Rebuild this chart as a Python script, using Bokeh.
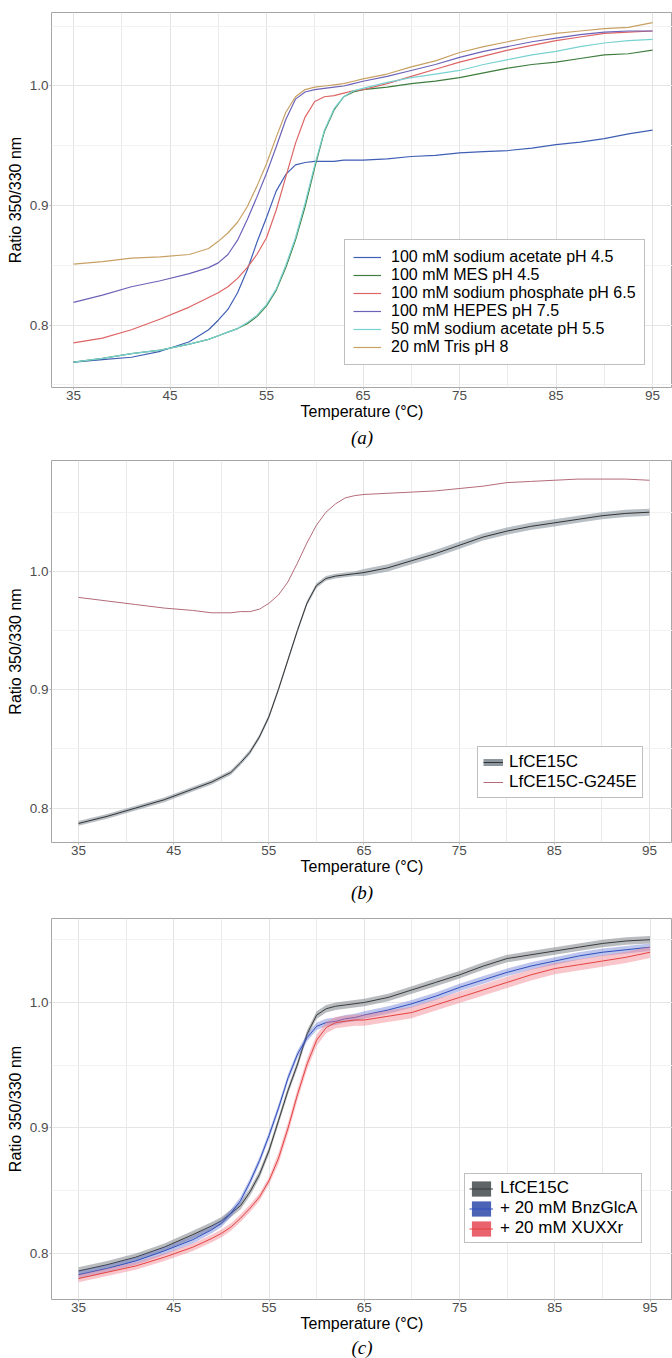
from bokeh.plotting import figure
from bokeh.models import (FixedTicker, PrintfTickFormatter, Legend, LegendItem,
                          Title, Range1d, ColumnDataSource)
from bokeh.layouts import column
from bokeh.embed import file_html
from bokeh.resources import INLINE

NAN = float("nan")

# ---------------- data ----------------
TEMP = [35, 38, 41, 44, 47, 49, 50, 51, 52, 53, 54, 55, 56, 57, 58, 59, 60, 61, 62,
        63, 64, 65, 67.5, 70, 72.5, 75, 77.5, 80, 82.5, 85, 87.5, 90, 92.5, 95]

# panel (a): buffer screen
a_labels = ["100 mM sodium acetate pH 4.5", "100 mM MES pH 4.5",
            "100 mM sodium phosphate pH 6.5", "100 mM HEPES pH 7.5",
            "50 mM sodium acetate pH 5.5", "20 mM Tris pH 8"]
a_acetate45 = [.769, .771, .773, .778, .786, .796, .804, .813, .827, .846, .869, .890, .912, .926,
               .934, .936, .937, .937, .937, .938, .938, .938, .939, .941, .942, .944, .945, .946,
               .948, .951, .953, .956, .960, .963]
a_mes45 = [.769, .772, .776, .779, .784, .788, .791, .794, .797, .801, .807, .816, .829, .848,
           .871, .899, .932, .962, .980, .991, .995, .997, .999, 1.002, 1.004, 1.007, 1.011, 1.015,
           1.018, 1.020, 1.023, 1.026, 1.027, 1.030]
a_phosphate65 = [.785, .789, .796, .805, .815, .823, .827, .832, .839, .848, .859, .873, .896, .924,
                 .952, .974, .987, .991, .992, .994, .996, .997, 1.002, 1.008, 1.014, 1.020, 1.025,
                 1.030, 1.034, 1.038, 1.041, 1.044, 1.045, 1.046]
a_hepes75 = [.819, .825, .832, .837, .843, .848, .852, .859, .871, .888, .907, .927, .949, .972,
             .989, .995, .997, .998, .999, 1.000, 1.002, 1.004, 1.008, 1.013, 1.018, 1.024, 1.029,
             1.033, 1.037, 1.040, 1.043, 1.045, 1.046, 1.046]
a_acetate55 = [.769, .772, .776, .779, .784, .788, .791, .794, .797, .802, .808, .817, .830, .850,
               .873, .902, .934, .963, .981, .991, .996, .998, 1.003, 1.007, 1.010, 1.013, 1.018,
               1.022, 1.026, 1.029, 1.033, 1.036, 1.038, 1.039]
a_tris8 = [.851, .853, .856, .857, .859, .864, .870, .877, .886, .899, .916, .935, .957, .978,
           .991, .997, .999, 1.000, 1.001, 1.002, 1.004, 1.006, 1.010, 1.016, 1.021, 1.028, 1.033,
           1.037, 1.041, 1.044, 1.046, 1.048, 1.049, 1.053]
a_colors = ["#3f5fb5", "#3e7d3e", "#de6464", "#6c63b8", "#79d2d2", "#c9a063"]

# panel (b): wild type vs mutant
b_labels = ["LfCE15C", "LfCE15C-G245E"]
b_wt = [.787, .793, .800, .807, .816, .822, .826, .830, .838, .847, .860, .877, .900, .925,
        .950, .973, .988, .994, .996, .997, .998, .999, 1.003, 1.009, 1.015, 1.022, 1.029,
        1.034, 1.038, 1.041, 1.044, 1.047, 1.049, 1.050]
b_wt_sd = [.002] * 21 + [.003] * 13
b_g245e = [.978, .975, .972, .969, .967, .965, .965, .965, .966, .966, .968, .973, .980, .991,
           1.007, 1.024, 1.039, 1.050, 1.057, 1.062, 1.064, 1.065, 1.066, 1.067, 1.068, 1.070,
           1.072, 1.075, 1.076, 1.077, 1.078, 1.078, 1.078, 1.077]

# panel (c): ligands
c_labels = ["LfCE15C", "+ 20 mM BnzGlcA", "+ 20 mM XUXXr"]
c_wt = [.786, .791, .797, .805, .815, .822, .826, .832, .838, .849, .863, .882, .906, .930,
        .951, .975, .990, .995, .997, .998, .999, 1.000, 1.004, 1.010, 1.016, 1.022, 1.029,
        1.035, 1.038, 1.041, 1.044, 1.047, 1.049, 1.050]
c_wt_sd = [.003] * 34
c_bnz = [.783, .788, .794, .802, .811, .819, .824, .832, .842, .857, .874, .894, .916, .940,
         .959, .972, .981, .984, .985, .987, .988, .990, .994, .999, 1.005, 1.012, 1.018, 1.024,
         1.029, 1.033, 1.037, 1.040, 1.042, 1.044]
c_bnz_sd = [.003] * 34
c_xuxxr = [.780, .785, .790, .797, .805, .812, .816, .821, .828, .836, .845, .858, .876, .900,
           .927, .951, .970, .980, .984, .985, .986, .986, .989, .992, .998, 1.004, 1.010, 1.016,
           1.022, 1.027, 1.030, 1.033, 1.036, 1.040]
c_xuxxr_sd = [.003] * 12 + [.0045] * 22

X_TICKS = [35, 45, 55, 65, 75, 85, 95]
X_MINOR = [30, 40, 50, 60, 70, 80, 90]
Y_TICKS = [0.8, 0.9, 1.0]
Y_MINOR = [0.75, 0.85, 0.95, 1.05]

FONT = "Liberation Sans"


def make_fig(xr, yr, height, border_top, border_bottom, caption, cap_standoff):
    p = figure(width=672, height=height, x_range=Range1d(*xr), y_range=Range1d(*yr),
               output_backend="svg", toolbar_location=None,
               min_border_left=51, min_border_right=0, min_border_top=border_top,
               min_border_bottom=border_bottom)
    p.outline_line_color = "#a6a6a6"
    p.outline_line_width = 1
    p.background_fill_color = "white"
    p.xaxis.ticker = FixedTicker(ticks=X_TICKS, minor_ticks=X_MINOR)
    p.yaxis.ticker = FixedTicker(ticks=Y_TICKS, minor_ticks=Y_MINOR)
    p.yaxis.formatter = PrintfTickFormatter(format="%.1f")
    for ax in (p.xaxis, p.yaxis):
        ax.axis_line_color = None
        ax.major_tick_line_color = "#b3b3b3"
        ax.major_tick_out = 2
        ax.major_tick_in = 0
        ax.minor_tick_out = 0
        ax.minor_tick_in = 0
        ax.major_label_text_font = FONT
        ax.major_label_text_font_size = "13.5px"
        ax.major_label_text_color = "#4d4d4d"
        ax.major_label_standoff = 1
        ax.axis_label_text_font = FONT
        ax.axis_label_text_font_size = "16px"
        ax.axis_label_text_font_style = "normal"
        ax.axis_label_text_color = "black"
    p.xaxis.axis_label_standoff = 0
    p.yaxis.axis_label_standoff = 3
    p.xaxis.axis_label = "Temperature (\u00b0C)"
    p.yaxis.axis_label = "Ratio 350/330 nm"
    p.xgrid.grid_line_color = "#e3e3e3"
    p.ygrid.grid_line_color = "#e6e6e6"
    p.xgrid.minor_grid_line_color = "#eaeaea"
    p.ygrid.minor_grid_line_color = "#f2f2f2"
    p.add_layout(Title(text=caption, align="center", text_font="Liberation Serif",
                       text_font_style="italic", text_font_size="19px",
                       text_color="black", standoff=cap_standoff), "below")
    return p


def style_legend(lg, size, glyph_w, glyph_h, label_h, standoff, pad):
    lg.label_text_font = FONT
    lg.label_text_font_size = size
    lg.label_text_color = "black"
    lg.glyph_width = glyph_w
    lg.glyph_height = glyph_h
    lg.label_height = label_h
    lg.label_standoff = standoff
    lg.padding = pad
    lg.spacing = 0
    lg.margin = 0
    lg.border_line_color = "#808080"
    lg.border_line_width = 1
    lg.background_fill_color = "white"
    lg.background_fill_alpha = 1


# ---------------- panel (a) ----------------
pa = make_fig((32.72, 97.07), (0.7477, 1.0615), 456, 12, 69, "(a)", 4)
a_series = [a_acetate45, a_mes45, a_phosphate65, a_hepes75, a_acetate55, a_tris8]
a_items = []
for lab, ys, col in zip(a_labels, a_series, a_colors):
    r = pa.line(TEMP, ys, line_color=col, line_width=1.2)
    a_items.append(LegendItem(label=lab, renderers=[r]))
lga = Legend(items=a_items, location=(293, 22))
style_legend(lga, "16px", 28, 18, 18, 10, 8)
pa.add_layout(lga)

# ---------------- panel (b) ----------------
pb = make_fig((32.16, 97.42), (0.7709, 1.0937), 458, 4, 72, "(b)", 4)
src_b = ColumnDataSource(dict(t=TEMP, m=b_wt,
                              lo=[m - s for m, s in zip(b_wt, b_wt_sd)],
                              hi=[m + s for m, s in zip(b_wt, b_wt_sd)]))
pb.varea(x="t", y1="lo", y2="hi", source=src_b, fill_color="#7d8a96", fill_alpha=0.55)
rb_wt = pb.line(x="t", y="m", source=src_b, line_color="#333333", line_width=1)
rb_mut = pb.line(TEMP, b_g245e, line_color="#b36b79", line_width=1)
rb_key = pb.line([NAN], [NAN], line_color="#8c969f", line_width=7)
lgb = Legend(items=[LegendItem(label=b_labels[0], renderers=[rb_key, rb_wt]),
                    LegendItem(label=b_labels[1], renderers=[rb_mut])],
             location=(426, 44))
style_legend(lgb, "17px", 20, 18, 18, 6, 5)
pb.add_layout(lgb)

# ---------------- panel (c) ----------------
pc = make_fig((32.16, 97.36), (0.7633, 1.0669), 444, 4, 59, "(c)", 0)
c_sets = [(c_wt, c_wt_sd, "#80858a", 0.55, "#3a3a3a", "#5f6467"),
          (c_bnz, c_bnz_sd, "#5b6fd0", 0.40, "#2f4fbf", "#4a63b5"),
          (c_xuxxr, c_xuxxr_sd, "#f2808e", 0.45, "#e5433f", "#e8636e")]
c_items = []
for lab, (m, sd, fc, fa, lc, kc) in zip(c_labels, c_sets):
    src = ColumnDataSource(dict(t=TEMP, m=m, lo=[a - b for a, b in zip(m, sd)],
                                hi=[a + b for a, b in zip(m, sd)]))
    pc.varea(x="t", y1="lo", y2="hi", source=src, fill_color=fc, fill_alpha=fa)
    rl = pc.line(x="t", y="m", source=src, line_color=lc, line_width=1)
    key = pc.varea(x=[NAN], y1=[NAN], y2=[NAN], fill_color=kc, fill_alpha=1)
    c_items.append(LegendItem(label=lab, renderers=[key, rl]))
lgc = Legend(items=c_items, location=(413, 56))
style_legend(lgc, "17px", 24, 19, 19, 7, 4)
pc.add_layout(lgc)

layout = column(pa, pb, pc, spacing=0)
open("out.html", "w").write(file_html(layout, INLINE))
